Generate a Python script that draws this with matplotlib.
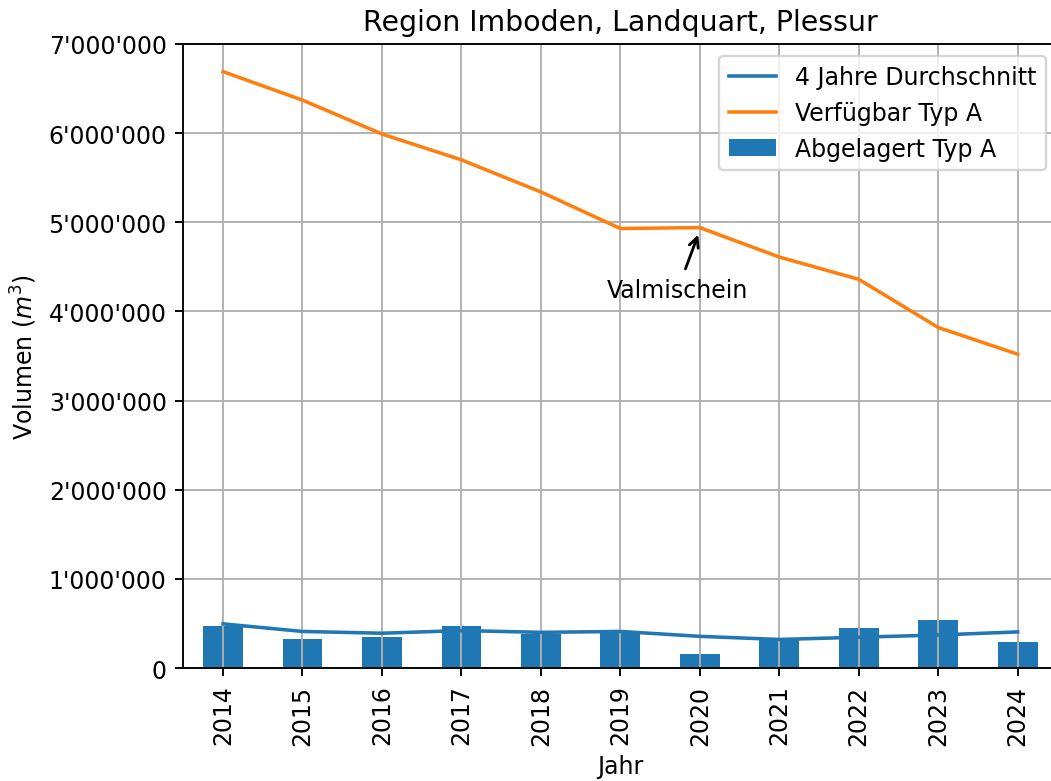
import matplotlib
matplotlib.use("Agg")
import matplotlib.pyplot as plt
from matplotlib.ticker import FuncFormatter

# Data
years = [2014, 2015, 2016, 2017, 2018, 2019, 2020, 2021, 2022, 2023, 2024]
abgelagert = [475000, 326000, 348000, 467000, 385000, 410000, 160000, 310000, 445000, 535000, 290000]
durchschnitt = [495000, 410000, 390000, 420000, 400000, 410000, 355000, 320000, 345000, 370000, 405000]
verfuegbar = [6690000, 6370000, 5990000, 5700000, 5340000, 4930000, 4940000, 4610000, 4360000, 3820000, 3520000]

x = list(range(len(years)))

DPI = 170
fig, ax = plt.subplots(figsize=(1051 / DPI, 782 / DPI), dpi=DPI)
# the reference image is cropped on the right, so the axes run past the edge
fig.subplots_adjust(left=0.1744, right=1.0061, top=0.9425, bottom=0.1445)

ax.bar(x, abgelagert, width=0.5, color="#1f77b4", label="Abgelagert Typ A")
ax.plot(x, durchschnitt, color="#1f77b4", label="4 Jahre Durchschnitt")
ax.plot(x, verfuegbar, color="#ff7f0e", label="Verfügbar Typ A")

ax.annotate("Valmischein", xy=(6, 4.91e6), xytext=(5.72, 4.24e6),
            ha="center", va="center", fontsize=10,
            arrowprops=dict(arrowstyle="->", color="black", lw=1.2))

ax.set_xlim(-0.5, len(years) - 0.5)
ax.set_ylim(0, 7e6)
ax.set_xticks(x)
ax.set_xticklabels([str(y) for y in years], rotation=90)
ax.yaxis.set_major_formatter(FuncFormatter(lambda v, p: f"{v:,.0f}".replace(",", "'")))

ax.grid(True)
ax.set_title("Region Imboden, Landquart, Plessur")
ax.set_xlabel("Jahr")
ax.set_ylabel("Volumen ($m^3$)")
ax.legend(loc="upper right")

fig.savefig("out.png", dpi=DPI)
